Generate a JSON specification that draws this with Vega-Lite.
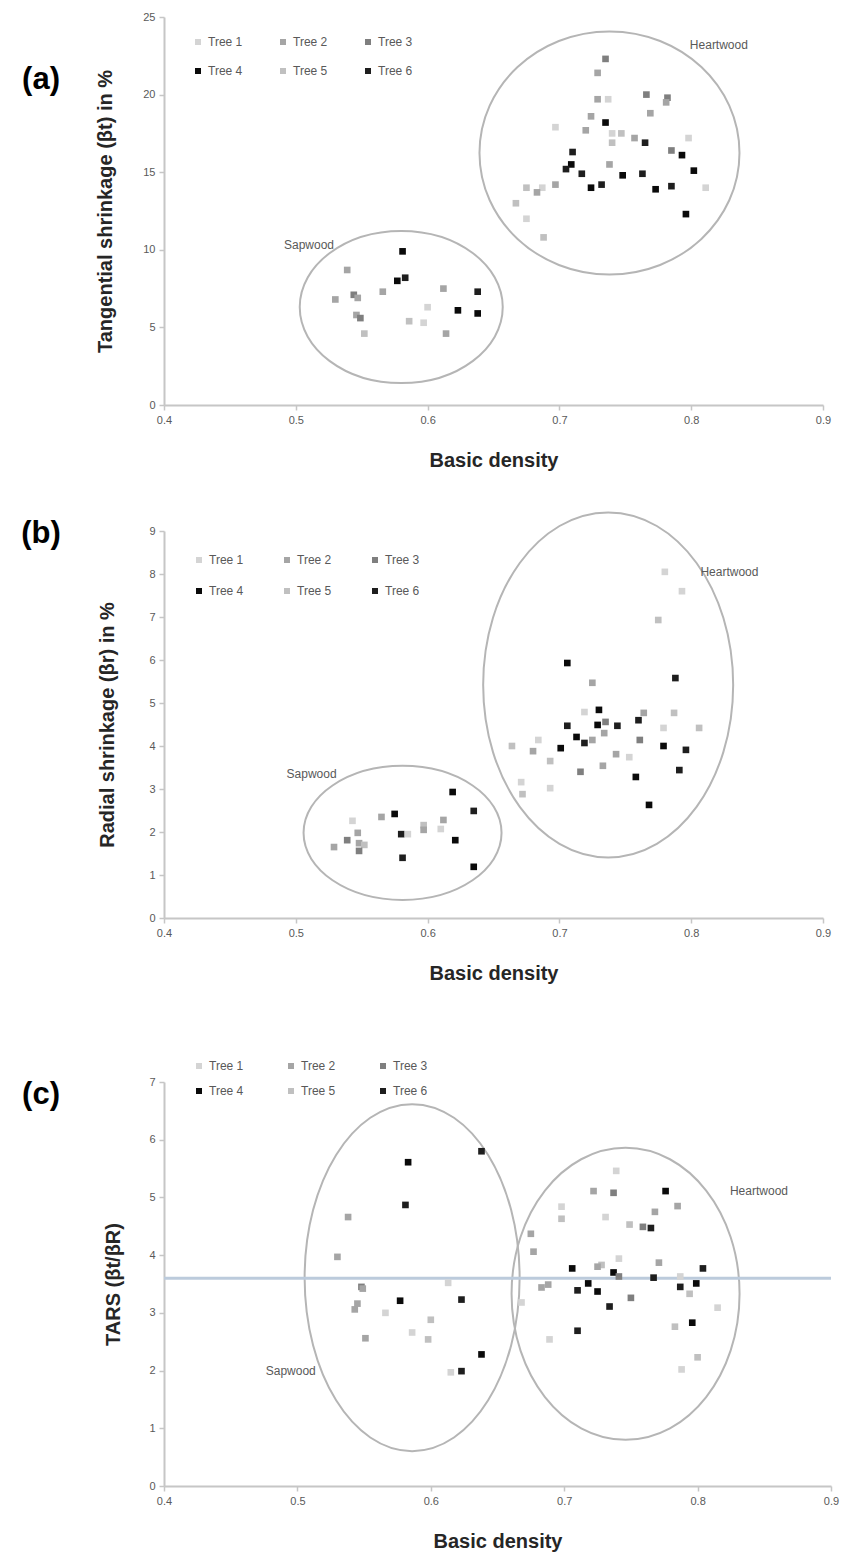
{
"$schema": "https://vega.github.io/schema/vega-lite/v6.json",
"padding": {"left": 21, "top": 11, "right": 5, "bottom": 5},
"background": "white",
"config": {
 "view": {"stroke": null},
 "font": "Liberation Sans",
 "axis": {"grid": false, "domainColor": "#c6c6c6", "domainWidth": 2, "tickColor": "#c6c6c6", "tickWidth": 1.5, "tickSize": 5, "labelFontSize": 11, "labelColor": "#595959", "labelPadding": 4, "labelFlush": false, "titleFontSize": 20, "titleFontWeight": "bold", "titleColor": "#262626", "titleFont": "Liberation Sans", "labelFont": "Liberation Sans"},
 "legend": {"labelFontSize": 12, "labelColor": "#595959", "symbolType": "square", "symbolSize": 36, "padding": 0, "labelOffset": 4, "labelFont": "Liberation Sans", "symbolStrokeWidth": 0}
},
"datasets": {
 "a_pts": [
  {"density":0.735,"value":22.3,"tree":"Tree 3"},{"density":0.729,"value":21.4,"tree":"Tree 2"},{"density":0.729,"value":19.7,"tree":"Tree 2"},{"density":0.737,"value":19.7,"tree":"Tree 1"},{"density":0.766,"value":20.0,"tree":"Tree 3"},{"density":0.782,"value":19.8,"tree":"Tree 3"},{"density":0.781,"value":19.5,"tree":"Tree 2"},{"density":0.769,"value":18.8,"tree":"Tree 2"},{"density":0.724,"value":18.6,"tree":"Tree 2"},{"density":0.735,"value":18.2,"tree":"Tree 4"},{"density":0.697,"value":17.9,"tree":"Tree 1"},{"density":0.720,"value":17.7,"tree":"Tree 2"},{"density":0.740,"value":17.5,"tree":"Tree 1"},{"density":0.747,"value":17.5,"tree":"Tree 5"},{"density":0.740,"value":16.9,"tree":"Tree 5"},{"density":0.757,"value":17.2,"tree":"Tree 2"},{"density":0.765,"value":16.9,"tree":"Tree 6"},{"density":0.798,"value":17.2,"tree":"Tree 1"},{"density":0.785,"value":16.4,"tree":"Tree 3"},{"density":0.793,"value":16.1,"tree":"Tree 4"},{"density":0.710,"value":16.3,"tree":"Tree 6"},{"density":0.738,"value":15.5,"tree":"Tree 2"},{"density":0.709,"value":15.5,"tree":"Tree 4"},{"density":0.705,"value":15.2,"tree":"Tree 6"},{"density":0.717,"value":14.9,"tree":"Tree 6"},{"density":0.802,"value":15.1,"tree":"Tree 4"},{"density":0.748,"value":14.8,"tree":"Tree 4"},{"density":0.763,"value":14.9,"tree":"Tree 6"},{"density":0.697,"value":14.2,"tree":"Tree 2"},{"density":0.724,"value":14.0,"tree":"Tree 4"},{"density":0.732,"value":14.2,"tree":"Tree 6"},{"density":0.773,"value":13.9,"tree":"Tree 4"},{"density":0.785,"value":14.1,"tree":"Tree 6"},{"density":0.811,"value":14.0,"tree":"Tree 1"},{"density":0.675,"value":14.0,"tree":"Tree 5"},{"density":0.687,"value":14.0,"tree":"Tree 1"},{"density":0.683,"value":13.7,"tree":"Tree 2"},{"density":0.667,"value":13.0,"tree":"Tree 5"},{"density":0.675,"value":12.0,"tree":"Tree 1"},{"density":0.688,"value":10.8,"tree":"Tree 5"},{"density":0.796,"value":12.3,"tree":"Tree 4"},
  {"density":0.581,"value":9.9,"tree":"Tree 4"},{"density":0.583,"value":8.2,"tree":"Tree 6"},{"density":0.577,"value":8.0,"tree":"Tree 4"},{"density":0.539,"value":8.7,"tree":"Tree 2"},{"density":0.530,"value":6.8,"tree":"Tree 2"},{"density":0.544,"value":7.1,"tree":"Tree 3"},{"density":0.547,"value":6.9,"tree":"Tree 2"},{"density":0.566,"value":7.3,"tree":"Tree 2"},{"density":0.612,"value":7.5,"tree":"Tree 2"},{"density":0.600,"value":6.3,"tree":"Tree 1"},{"density":0.586,"value":5.4,"tree":"Tree 5"},{"density":0.597,"value":5.3,"tree":"Tree 1"},{"density":0.623,"value":6.1,"tree":"Tree 4"},{"density":0.638,"value":7.3,"tree":"Tree 6"},{"density":0.638,"value":5.9,"tree":"Tree 4"},{"density":0.614,"value":4.6,"tree":"Tree 2"},{"density":0.546,"value":5.8,"tree":"Tree 2"},{"density":0.549,"value":5.6,"tree":"Tree 3"},{"density":0.552,"value":4.6,"tree":"Tree 5"}
 ],
 "a_ell": [{"density":0.580,"value":6.31,"region":"Sapwood"},{"density":0.738,"value":16.24,"region":"Heartwood"}],
 "a_lab": [{"density":0.510,"value":10.3,"text":"Sapwood","kind":"region"},{"density":0.821,"value":23.2,"text":"Heartwood","kind":"region"},{"density":0.3067,"value":20.94,"text":"(a)","kind":"panel"}],
 "b_pts": [
  {"density":0.780,"value":8.05,"tree":"Tree 1"},{"density":0.793,"value":7.6,"tree":"Tree 1"},{"density":0.775,"value":6.93,"tree":"Tree 5"},{"density":0.706,"value":5.93,"tree":"Tree 4"},{"density":0.788,"value":5.58,"tree":"Tree 6"},{"density":0.725,"value":5.47,"tree":"Tree 2"},{"density":0.719,"value":4.79,"tree":"Tree 1"},{"density":0.730,"value":4.84,"tree":"Tree 4"},{"density":0.764,"value":4.77,"tree":"Tree 2"},{"density":0.760,"value":4.60,"tree":"Tree 6"},{"density":0.787,"value":4.77,"tree":"Tree 5"},{"density":0.706,"value":4.47,"tree":"Tree 6"},{"density":0.729,"value":4.49,"tree":"Tree 4"},{"density":0.735,"value":4.56,"tree":"Tree 3"},{"density":0.744,"value":4.47,"tree":"Tree 6"},{"density":0.734,"value":4.30,"tree":"Tree 2"},{"density":0.779,"value":4.42,"tree":"Tree 1"},{"density":0.806,"value":4.42,"tree":"Tree 5"},{"density":0.713,"value":4.21,"tree":"Tree 4"},{"density":0.719,"value":4.07,"tree":"Tree 6"},{"density":0.725,"value":4.14,"tree":"Tree 2"},{"density":0.684,"value":4.14,"tree":"Tree 1"},{"density":0.680,"value":3.88,"tree":"Tree 2"},{"density":0.664,"value":4.0,"tree":"Tree 5"},{"density":0.701,"value":3.95,"tree":"Tree 4"},{"density":0.761,"value":4.14,"tree":"Tree 3"},{"density":0.779,"value":4.0,"tree":"Tree 4"},{"density":0.796,"value":3.91,"tree":"Tree 6"},{"density":0.743,"value":3.81,"tree":"Tree 2"},{"density":0.753,"value":3.74,"tree":"Tree 1"},{"density":0.693,"value":3.65,"tree":"Tree 5"},{"density":0.733,"value":3.54,"tree":"Tree 2"},{"density":0.716,"value":3.40,"tree":"Tree 3"},{"density":0.758,"value":3.28,"tree":"Tree 4"},{"density":0.791,"value":3.44,"tree":"Tree 6"},{"density":0.671,"value":3.16,"tree":"Tree 1"},{"density":0.672,"value":2.88,"tree":"Tree 5"},{"density":0.693,"value":3.02,"tree":"Tree 1"},{"density":0.768,"value":2.63,"tree":"Tree 4"},
  {"density":0.619,"value":2.93,"tree":"Tree 4"},{"density":0.635,"value":2.49,"tree":"Tree 6"},{"density":0.575,"value":2.42,"tree":"Tree 4"},{"density":0.565,"value":2.35,"tree":"Tree 2"},{"density":0.543,"value":2.26,"tree":"Tree 1"},{"density":0.612,"value":2.28,"tree":"Tree 2"},{"density":0.597,"value":2.16,"tree":"Tree 5"},{"density":0.597,"value":2.05,"tree":"Tree 2"},{"density":0.610,"value":2.07,"tree":"Tree 1"},{"density":0.580,"value":1.95,"tree":"Tree 6"},{"density":0.585,"value":1.95,"tree":"Tree 1"},{"density":0.547,"value":1.98,"tree":"Tree 2"},{"density":0.539,"value":1.81,"tree":"Tree 3"},{"density":0.548,"value":1.74,"tree":"Tree 2"},{"density":0.552,"value":1.70,"tree":"Tree 5"},{"density":0.529,"value":1.65,"tree":"Tree 2"},{"density":0.548,"value":1.56,"tree":"Tree 3"},{"density":0.621,"value":1.81,"tree":"Tree 4"},{"density":0.581,"value":1.40,"tree":"Tree 6"},{"density":0.635,"value":1.19,"tree":"Tree 4"}
 ],
 "b_ell": [{"density":0.581,"value":1.98,"region":"Sapwood"},{"density":0.737,"value":5.42,"region":"Heartwood"}],
 "b_lab": [{"density":0.512,"value":3.35,"text":"Sapwood","kind":"region"},{"density":0.829,"value":8.05,"text":"Heartwood","kind":"region"},{"density":0.3067,"value":8.93,"text":"(b)","kind":"panel"}],
 "c_pts": [
  {"density":0.638,"value":5.80,"tree":"Tree 6"},{"density":0.583,"value":5.61,"tree":"Tree 4"},{"density":0.581,"value":4.87,"tree":"Tree 6"},{"density":0.538,"value":4.66,"tree":"Tree 2"},{"density":0.530,"value":3.97,"tree":"Tree 2"},{"density":0.613,"value":3.52,"tree":"Tree 1"},{"density":0.548,"value":3.45,"tree":"Tree 3"},{"density":0.549,"value":3.42,"tree":"Tree 2"},{"density":0.577,"value":3.21,"tree":"Tree 4"},{"density":0.623,"value":3.23,"tree":"Tree 6"},{"density":0.545,"value":3.16,"tree":"Tree 2"},{"density":0.543,"value":3.06,"tree":"Tree 2"},{"density":0.566,"value":3.0,"tree":"Tree 1"},{"density":0.600,"value":2.88,"tree":"Tree 5"},{"density":0.586,"value":2.66,"tree":"Tree 1"},{"density":0.598,"value":2.54,"tree":"Tree 5"},{"density":0.551,"value":2.56,"tree":"Tree 2"},{"density":0.638,"value":2.28,"tree":"Tree 4"},{"density":0.615,"value":1.97,"tree":"Tree 1"},{"density":0.623,"value":1.99,"tree":"Tree 6"},
  {"density":0.739,"value":5.46,"tree":"Tree 1"},{"density":0.722,"value":5.11,"tree":"Tree 2"},{"density":0.737,"value":5.08,"tree":"Tree 3"},{"density":0.776,"value":5.11,"tree":"Tree 4"},{"density":0.698,"value":4.84,"tree":"Tree 1"},{"density":0.698,"value":4.63,"tree":"Tree 5"},{"density":0.785,"value":4.85,"tree":"Tree 2"},{"density":0.768,"value":4.75,"tree":"Tree 2"},{"density":0.731,"value":4.66,"tree":"Tree 1"},{"density":0.749,"value":4.53,"tree":"Tree 5"},{"density":0.759,"value":4.49,"tree":"Tree 3"},{"density":0.765,"value":4.47,"tree":"Tree 6"},{"density":0.675,"value":4.37,"tree":"Tree 2"},{"density":0.677,"value":4.06,"tree":"Tree 2"},{"density":0.741,"value":3.94,"tree":"Tree 1"},{"density":0.771,"value":3.87,"tree":"Tree 2"},{"density":0.728,"value":3.83,"tree":"Tree 5"},{"density":0.725,"value":3.80,"tree":"Tree 2"},{"density":0.706,"value":3.77,"tree":"Tree 4"},{"density":0.804,"value":3.77,"tree":"Tree 6"},{"density":0.737,"value":3.70,"tree":"Tree 4"},{"density":0.741,"value":3.63,"tree":"Tree 3"},{"density":0.767,"value":3.61,"tree":"Tree 6"},{"density":0.787,"value":3.63,"tree":"Tree 1"},{"density":0.688,"value":3.49,"tree":"Tree 2"},{"density":0.683,"value":3.44,"tree":"Tree 2"},{"density":0.718,"value":3.51,"tree":"Tree 4"},{"density":0.787,"value":3.45,"tree":"Tree 6"},{"density":0.799,"value":3.51,"tree":"Tree 4"},{"density":0.710,"value":3.39,"tree":"Tree 6"},{"density":0.725,"value":3.37,"tree":"Tree 4"},{"density":0.794,"value":3.33,"tree":"Tree 5"},{"density":0.750,"value":3.26,"tree":"Tree 3"},{"density":0.734,"value":3.11,"tree":"Tree 6"},{"density":0.668,"value":3.18,"tree":"Tree 1"},{"density":0.815,"value":3.09,"tree":"Tree 1"},{"density":0.796,"value":2.83,"tree":"Tree 4"},{"density":0.783,"value":2.76,"tree":"Tree 5"},{"density":0.710,"value":2.69,"tree":"Tree 6"},{"density":0.689,"value":2.54,"tree":"Tree 1"},{"density":0.800,"value":2.23,"tree":"Tree 5"},{"density":0.788,"value":2.02,"tree":"Tree 1"}
 ],
 "c_ell": [{"density":0.586,"value":3.61,"region":"Sapwood"},{"density":0.746,"value":3.33,"region":"Heartwood"}],
 "c_lab": [{"density":0.495,"value":1.99,"text":"Sapwood","kind":"region"},{"density":0.846,"value":5.11,"text":"Heartwood","kind":"region"},{"density":0.3078,"value":6.77,"text":"(c)","kind":"panel"}],
 "c_ref": [{"value":3.6}]
},
"spacing": 38,
"resolve": {"scale": {"color": "independent"}},
"vconcat": [
 {
  "width": 659, "height": 388,
  "layer": [
   {"data": {"name": "a_ell"}, "transform": [{"filter": "datum.region === 'Sapwood'"}],
    "mark": {"type": "point", "shape": "M 1 0 C 1 0.4137 0.5523 0.749 0 0.749 C -0.5523 0.749 -1 0.4137 -1 0 C -1 -0.4137 -0.5523 -0.749 0 -0.749 C 0.5523 -0.749 1 -0.4137 1 0 Z", "size": 41209, "filled": false, "color": "#b5b5b5", "strokeWidth": 2, "opacity": 1},
    "encoding": {"x": {"field": "density", "type": "quantitative", "scale": {"domain": [0.4, 0.9], "nice": false, "zero": false}}, "y": {"field": "value", "type": "quantitative", "scale": {"domain": [0, 25], "nice": false}}}},
   {"data": {"name": "a_ell"}, "transform": [{"filter": "datum.region === 'Heartwood'"}],
    "mark": {"type": "point", "shape": "M 1 0 C 1 0.5164 0.5523 0.935 0 0.935 C -0.5523 0.935 -1 0.5164 -1 0 C -1 -0.5164 -0.5523 -0.935 0 -0.935 C 0.5523 -0.935 1 -0.5164 1 0 Z", "size": 67600, "filled": false, "color": "#b5b5b5", "strokeWidth": 2, "opacity": 1},
    "encoding": {"x": {"field": "density", "type": "quantitative", "scale": {"domain": [0.4, 0.9], "nice": false, "zero": false}}, "y": {"field": "value", "type": "quantitative", "scale": {"domain": [0, 25], "nice": false}}}},
   {"data": {"name": "a_pts"},
    "mark": {"type": "square", "size": 44, "opacity": 1},
    "encoding": {
     "x": {"field": "density", "type": "quantitative", "scale": {"domain": [0.4, 0.9], "nice": false, "zero": false}, "axis": {"title": "Basic density", "values": [0.4, 0.5, 0.6, 0.7, 0.8, 0.9], "format": ".1f", "titlePadding": 25}},
     "y": {"field": "value", "type": "quantitative", "scale": {"domain": [0, 25], "nice": false}, "axis": {"title": "Tangential shrinkage (βt) in %", "values": [0, 5, 10, 15, 20, 25], "format": "d", "titlePadding": 27}},
     "color": {"field": "tree", "type": "nominal", "scale": {"domain": ["Tree 1", "Tree 2", "Tree 3", "Tree 4", "Tree 5", "Tree 6"], "range": ["#d4d4d4", "#a5a5a5", "#7f7f7f", "#0a0a0a", "#c0c0c0", "#1e1e1e"]}, "legend": {"title": null, "orient": "none", "legendX": 28, "legendY": 19, "columns": 3, "direction": "horizontal", "columnPadding": 34, "rowPadding": 17}}
    }},
   {"data": {"name": "a_lab"}, "transform": [{"filter": "datum.kind === 'region'"}],
    "mark": {"type": "text", "fontSize": 12, "color": "#595959", "align": "center", "baseline": "middle"},
    "encoding": {"x": {"field": "density", "type": "quantitative", "scale": {"domain": [0.4, 0.9], "nice": false, "zero": false}}, "y": {"field": "value", "type": "quantitative", "scale": {"domain": [0, 25], "nice": false}}, "text": {"field": "text"}}},
   {"data": {"name": "a_lab"}, "transform": [{"filter": "datum.kind === 'panel'"}],
    "mark": {"type": "text", "fontSize": 31, "fontWeight": "bold", "color": "#000000", "align": "center", "baseline": "middle"},
    "encoding": {"x": {"field": "density", "type": "quantitative", "scale": {"domain": [0.4, 0.9], "nice": false, "zero": false}}, "y": {"field": "value", "type": "quantitative", "scale": {"domain": [0, 25], "nice": false}}, "text": {"field": "text"}}}
  ]
 },
 {
  "spacing": 77,
  "resolve": {"scale": {"color": "independent"}},
  "vconcat": [
   {
    "width": 659, "height": 387,
    "layer": [
     {"data": {"name": "b_ell"}, "transform": [{"filter": "datum.region === 'Sapwood'"}],
      "mark": {"type": "point", "shape": "M 1 0 C 1 0.3739 0.5523 0.677 0 0.677 C -0.5523 0.677 -1 0.3739 -1 0 C -1 -0.3739 -0.5523 -0.677 0 -0.677 C 0.5523 -0.677 1 -0.3739 1 0 Z", "size": 39204, "filled": false, "color": "#b5b5b5", "strokeWidth": 2, "opacity": 1},
      "encoding": {"x": {"field": "density", "type": "quantitative", "scale": {"domain": [0.4, 0.9], "nice": false, "zero": false}}, "y": {"field": "value", "type": "quantitative", "scale": {"domain": [0, 9], "nice": false}}}},
     {"data": {"name": "b_ell"}, "transform": [{"filter": "datum.region === 'Heartwood'"}],
      "mark": {"type": "point", "shape": "M 1 0 C 1 0.7622 0.5523 1.38 0 1.38 C -0.5523 1.38 -1 0.7622 -1 0 C -1 -0.7622 -0.5523 -1.38 0 -1.38 C 0.5523 -1.38 1 -0.7622 1 0 Z", "size": 62500, "filled": false, "color": "#b5b5b5", "strokeWidth": 2, "opacity": 1},
      "encoding": {"x": {"field": "density", "type": "quantitative", "scale": {"domain": [0.4, 0.9], "nice": false, "zero": false}}, "y": {"field": "value", "type": "quantitative", "scale": {"domain": [0, 9], "nice": false}}}},
     {"data": {"name": "b_pts"},
      "mark": {"type": "square", "size": 44, "opacity": 1},
      "encoding": {
       "x": {"field": "density", "type": "quantitative", "scale": {"domain": [0.4, 0.9], "nice": false, "zero": false}, "axis": {"title": "Basic density", "values": [0.4, 0.5, 0.6, 0.7, 0.8, 0.9], "format": ".1f", "titlePadding": 25}},
       "y": {"field": "value", "type": "quantitative", "scale": {"domain": [0, 9], "nice": false}, "axis": {"title": "Radial shrinkage (βr) in %", "values": [0, 1, 2, 3, 4, 5, 6, 7, 8, 9], "format": "d", "titlePadding": 31}},
       "color": {"field": "tree", "type": "nominal", "scale": {"domain": ["Tree 1", "Tree 2", "Tree 3", "Tree 4", "Tree 5", "Tree 6"], "range": ["#d4d4d4", "#a5a5a5", "#7f7f7f", "#0a0a0a", "#c0c0c0", "#1e1e1e"]}, "legend": {"title": null, "orient": "none", "legendX": 29, "legendY": 23, "columns": 3, "direction": "horizontal", "columnPadding": 37, "rowPadding": 19}}
      }},
     {"data": {"name": "b_lab"}, "transform": [{"filter": "datum.kind === 'region'"}],
      "mark": {"type": "text", "fontSize": 12, "color": "#595959", "align": "center", "baseline": "middle"},
      "encoding": {"x": {"field": "density", "type": "quantitative", "scale": {"domain": [0.4, 0.9], "nice": false, "zero": false}}, "y": {"field": "value", "type": "quantitative", "scale": {"domain": [0, 9], "nice": false}}, "text": {"field": "text"}}},
     {"data": {"name": "b_lab"}, "transform": [{"filter": "datum.kind === 'panel'"}],
      "mark": {"type": "text", "fontSize": 31, "fontWeight": "bold", "color": "#000000", "align": "center", "baseline": "middle"},
      "encoding": {"x": {"field": "density", "type": "quantitative", "scale": {"domain": [0.4, 0.9], "nice": false, "zero": false}}, "y": {"field": "value", "type": "quantitative", "scale": {"domain": [0, 9], "nice": false}}, "text": {"field": "text"}}}
    ]
   },
   {
    "width": 667, "height": 404,
    "layer": [
     {"data": {"name": "c_ell"}, "transform": [{"filter": "datum.region === 'Sapwood'"}],
      "mark": {"type": "point", "shape": "M 1 0 C 1 0.8914 0.5523 1.614 0 1.614 C -0.5523 1.614 -1 0.8914 -1 0 C -1 -0.8914 -0.5523 -1.614 0 -1.614 C 0.5523 -1.614 1 -0.8914 1 0 Z", "size": 46225, "filled": false, "color": "#b5b5b5", "strokeWidth": 2, "opacity": 1},
      "encoding": {"x": {"field": "density", "type": "quantitative", "scale": {"domain": [0.4, 0.9], "nice": false, "zero": false}}, "y": {"field": "value", "type": "quantitative", "scale": {"domain": [0, 7], "nice": false}}}},
     {"data": {"name": "c_ell"}, "transform": [{"filter": "datum.region === 'Heartwood'"}],
      "mark": {"type": "point", "shape": "M 1 0 C 1 0.7075 0.5523 1.281 0 1.281 C -0.5523 1.281 -1 0.7075 -1 0 C -1 -0.7075 -0.5523 -1.281 0 -1.281 C 0.5523 -1.281 1 -0.7075 1 0 Z", "size": 51984, "filled": false, "color": "#b5b5b5", "strokeWidth": 2, "opacity": 1},
      "encoding": {"x": {"field": "density", "type": "quantitative", "scale": {"domain": [0.4, 0.9], "nice": false, "zero": false}}, "y": {"field": "value", "type": "quantitative", "scale": {"domain": [0, 7], "nice": false}}}},
     {"data": {"name": "c_ref"},
      "mark": {"type": "rule", "color": "#bccbdc", "strokeWidth": 3, "opacity": 1},
      "encoding": {"y": {"field": "value", "type": "quantitative", "scale": {"domain": [0, 7], "nice": false}}}},
     {"data": {"name": "c_pts"},
      "mark": {"type": "square", "size": 44, "opacity": 1},
      "encoding": {
       "x": {"field": "density", "type": "quantitative", "scale": {"domain": [0.4, 0.9], "nice": false, "zero": false}, "axis": {"title": "Basic density", "values": [0.4, 0.5, 0.6, 0.7, 0.8, 0.9], "format": ".1f", "titlePadding": 25}},
       "y": {"field": "value", "type": "quantitative", "scale": {"domain": [0, 7], "nice": false}, "axis": {"title": "TARS (βt/βR)", "values": [0, 1, 2, 3, 4, 5, 6, 7], "format": "d", "titlePadding": 25}},
       "color": {"field": "tree", "type": "nominal", "scale": {"domain": ["Tree 1", "Tree 2", "Tree 3", "Tree 4", "Tree 5", "Tree 6"], "range": ["#d4d4d4", "#a5a5a5", "#7f7f7f", "#0a0a0a", "#c0c0c0", "#1e1e1e"]}, "legend": {"title": null, "orient": "none", "legendX": 29, "legendY": -22, "columns": 3, "direction": "horizontal", "columnPadding": 41, "rowPadding": 13}}
      }},
     {"data": {"name": "c_lab"}, "transform": [{"filter": "datum.kind === 'region'"}],
      "mark": {"type": "text", "fontSize": 12, "color": "#595959", "align": "center", "baseline": "middle"},
      "encoding": {"x": {"field": "density", "type": "quantitative", "scale": {"domain": [0.4, 0.9], "nice": false, "zero": false}}, "y": {"field": "value", "type": "quantitative", "scale": {"domain": [0, 7], "nice": false}}, "text": {"field": "text"}}},
     {"data": {"name": "c_lab"}, "transform": [{"filter": "datum.kind === 'panel'"}],
      "mark": {"type": "text", "fontSize": 31, "fontWeight": "bold", "color": "#000000", "align": "center", "baseline": "middle"},
      "encoding": {"x": {"field": "density", "type": "quantitative", "scale": {"domain": [0.4, 0.9], "nice": false, "zero": false}}, "y": {"field": "value", "type": "quantitative", "scale": {"domain": [0, 7], "nice": false}}, "text": {"field": "text"}}}
    ]
   }
  ]
 }
]
}
